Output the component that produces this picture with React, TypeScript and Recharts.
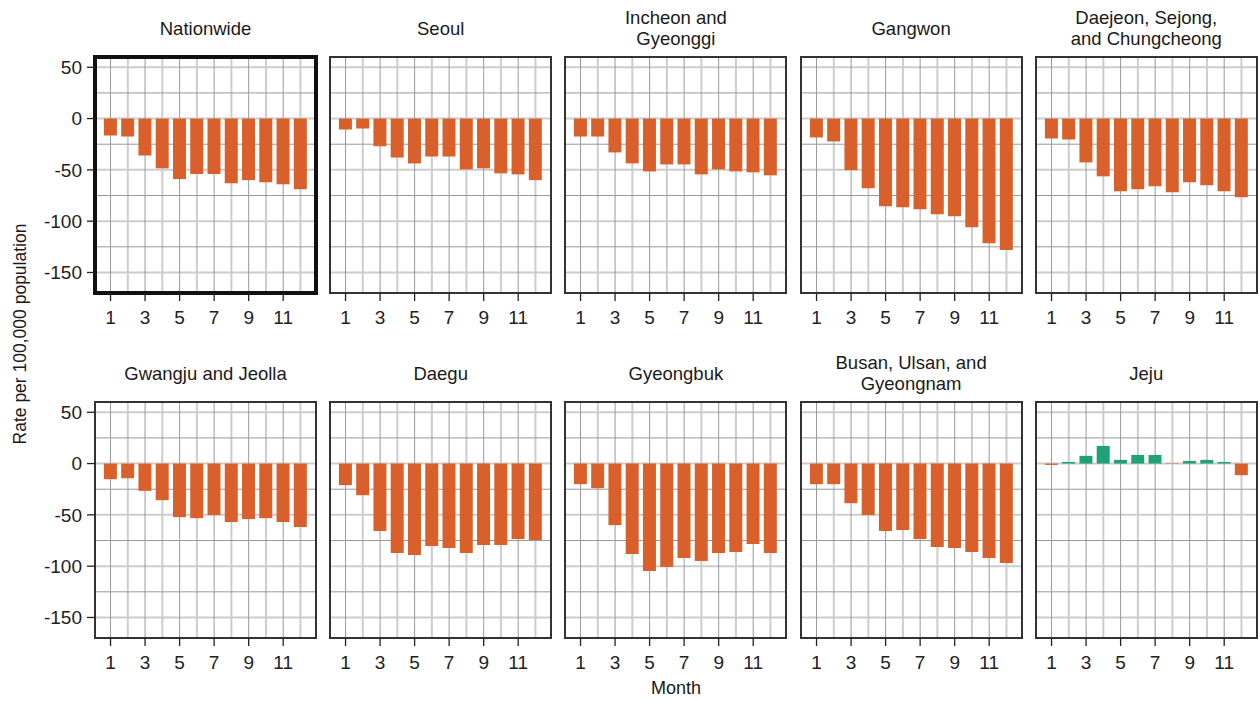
import React from 'react';
import { BarChart, Bar, XAxis, YAxis, CartesianGrid, ReferenceArea, Cell } from 'recharts';

const months = [1, 2, 3, 4, 5, 6, 7, 8, 9, 10, 11, 12];
const monthTicks = [1, 3, 5, 7, 9, 11];
const rateTicks = [50, 0, -50, -100, -150];
const minorRate = [25, -25, -75, -125];
const evenMonths = [2, 4, 6, 8, 10, 12];

const nationwide = [-16.5, -17.5, -36, -48.5, -59, -54, -54, -63, -60, -62, -64, -69];
const seoul = [-10.7, -9.7, -27, -38, -43.7, -37, -37, -49.5, -48.5, -53.4, -54.4, -60];
const incheon = [-17.5, -17.5, -33, -43.7, -51.5, -44.7, -44.7, -54.4, -49.5, -51.5, -52.4, -55.3];
const gangwon = [-18.4, -22.3, -50.2, -68, -85.4, -86.4, -88.3, -93.2, -95.1, -105.8, -121.4, -128.2];
const daejeon = [-19.4, -20.4, -42.7, -56.3, -70.9, -68.9, -66, -71.8, -62.1, -65, -70.9, -76.7];
const gwangju = [-15.2, -14.3, -26.6, -35.7, -52.2, -53.2, -50.2, -57, -54.1, -53.2, -57, -61.9];
const daegu = [-21, -30.8, -65.8, -87.2, -89.1, -80.4, -82.3, -87.2, -79.4, -79.4, -73.6, -74.6];
const gyeongbuk = [-20.1, -24, -60, -88.2, -104.7, -100.8, -92.1, -95, -87.2, -86.2, -78.4, -87.2];
const busan = [-20.1, -20.1, -38.6, -50.2, -65.8, -64.8, -73.6, -81.4, -82.3, -86.2, -92.1, -96.9];
const jeju = [-1.3, 1.6, 7.5, 17.2, 3.6, 8.4, 8.4, -0.4, 2.6, 3.6, 1.6, -11.3];

const panels = [
  { title: ['Nationwide'], values: nationwide },
  { title: ['Seoul'], values: seoul },
  { title: ['Incheon and', 'Gyeonggi'], values: incheon },
  { title: ['Gangwon'], values: gangwon },
  { title: ['Daejeon, Sejong,', 'and Chungcheong'], values: daejeon },
  { title: ['Gwangju and Jeolla'], values: gwangju },
  { title: ['Daegu'], values: daegu },
  { title: ['Gyeongbuk'], values: gyeongbuk },
  { title: ['Busan, Ulsan, and', 'Gyeongnam'], values: busan },
  { title: ['Jeju'], values: jeju },
];

const ORANGE = '#d9602b';
const GREEN = '#1fa277';
const X_DOMAIN = [0.1, 12.9];
const Y_DOMAIN = [-170, 60];

const PLOT_W = 221;
const PLOT_H = 236;
const COL_LEFT = [95, 330.2, 565.4, 800.6, 1035.8];
const ROW_TOP = [57, 402];
const Y_AXIS_W = 70;
const M = 4;
const X_AXIS_H = 44;

const FONT = "'Liberation Sans', Arial, Helvetica, sans-serif";

const Panel = ({ idx }: { idx: number }) => {
  const p = panels[idx];
  const col = idx % 5;
  const row = Math.floor(idx / 5);
  const showY = col === 0;
  const yW = showY ? Y_AXIS_W : 0;
  const data = months.map((m, i) => ({ month: m, value: p.values[i] }));
  const left = COL_LEFT[col];
  const top = ROW_TOP[row];
  const highlight = idx === 0;
  return (
    <>
      <div
        style={{
          position: 'absolute',
          left: left - 20,
          width: PLOT_W + 40,
          top: top - 56,
          height: 54,
          display: 'flex',
          flexDirection: 'column',
          justifyContent: 'center',
          alignItems: 'center',
          fontSize: 18.5,
          lineHeight: '21px',
          color: '#1a1a1a',
        }}
      >
        {p.title.map((t) => (
          <div key={t}>{t}</div>
        ))}
      </div>
      <div style={{ position: 'absolute', left: left - yW - M, top: top - M }}>
        <BarChart
          width={yW + PLOT_W + 2 * M}
          height={PLOT_H + 2 * M + X_AXIS_H}
          data={data}
          margin={{ top: M, right: M, bottom: M, left: M }}
        >
          <CartesianGrid
            stroke="#cccccc"
            strokeWidth={2}
            horizontalValues={rateTicks}
            verticalValues={evenMonths}
          />
          <CartesianGrid
            stroke="#999999"
            strokeWidth={1}
            horizontalValues={minorRate}
            verticalValues={monthTicks}
          />
          <XAxis
            dataKey="month"
            type="number"
            domain={X_DOMAIN}
            ticks={monthTicks}
            allowDataOverflow
            axisLine={false}
            tickSize={8}
            tickMargin={10}
            height={X_AXIS_H}
            tickLine={{ stroke: '#222', strokeWidth: 1.3 }}
            tick={{ fontSize: 19, fill: '#222' }}
          />
          <YAxis
            type="number"
            domain={Y_DOMAIN}
            ticks={rateTicks}
            allowDataOverflow
            hide={!showY}
            width={Y_AXIS_W}
            axisLine={false}
            tickSize={8}
            tickMargin={5}
            tickLine={{ stroke: '#222', strokeWidth: 1.3 }}
            tick={{ fontSize: 19, fill: '#222' }}
          />
          <Bar dataKey="value" barSize={13} isAnimationActive={false}>
            {data.map((d) => (
              <Cell key={d.month} fill={d.value < 0 ? ORANGE : GREEN} />
            ))}
          </Bar>
          <ReferenceArea
            x1={X_DOMAIN[0]}
            x2={X_DOMAIN[1]}
            y1={Y_DOMAIN[0]}
            y2={Y_DOMAIN[1]}
            ifOverflow="visible"
            fill="none"
            fillOpacity={0}
            stroke={highlight ? '#111' : '#333'}
            strokeWidth={highlight ? 4 : 2}
          />
        </BarChart>
      </div>
    </>
  );
};

export default function App() {
  return (
    <div
      style={{
        position: 'absolute',
        left: 0,
        top: 0,
        width: 1260,
        height: 701,
        background: '#fff',
        fontFamily: FONT,
      }}
    >
      {panels.map((_, i) => (
        <Panel key={i} idx={i} />
      ))}
      <div
        style={{
          position: 'absolute',
          left: 20,
          top: 334,
          transform: 'translate(-50%, -50%) rotate(-90deg)',
          whiteSpace: 'nowrap',
          fontSize: 17.5,
          color: '#1a1a1a',
        }}
      >
        Rate per 100,000 population
      </div>
      <div
        style={{
          position: 'absolute',
          left: 676,
          top: 688,
          transform: 'translate(-50%, -50%)',
          fontSize: 18,
          color: '#1a1a1a',
        }}
      >
        Month
      </div>
    </div>
  );
}
